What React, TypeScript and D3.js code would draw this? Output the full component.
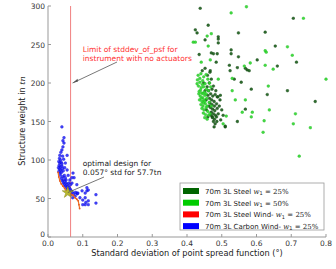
import React from "react";
import * as d3 from "d3";

// 70m 3L Steel w1=25% (dark green) : [std, weight]
const steel25 = [
  [0.706,284],[0.625,266],[0.654,248],[0.715,227],[0.660,222],[0.631,185],[0.689,190],[0.769,176],
  [0.438,297],[0.461,275],[0.424,269],[0.429,265],[0.490,260],[0.490,257],[0.490,252],[0.452,256],
  [0.548,265],[0.527,243],[0.435,237],[0.470,239],[0.476,238],[0.487,238],[0.527,238],[0.548,234],
  [0.484,227],[0.602,230],[0.522,223],[0.545,220],[0.568,219],[0.573,217],[0.579,216],[0.452,219],
  [0.467,216],[0.444,216],[0.524,216],[0.536,205],[0.556,201],[0.585,192],[0.568,166],[0.545,150],
  [0.510,143],[0.510,144],[0.487,182],[0.496,184],[0.504,158],[0.473,156],
  [0.462,190],[0.468,186],[0.474,183],[0.465,180],[0.471,178],[0.478,176],[0.466,174],[0.472,172],
  [0.479,170],[0.485,173],[0.468,168],[0.474,166],[0.480,164],[0.487,167],[0.470,162],[0.476,160],
  [0.482,158],[0.473,155],[0.479,153],[0.485,156],[0.476,150],[0.481,147],[0.478,143],[0.490,160],
  [0.493,170],[0.460,184],[0.455,178],[0.458,195],[0.464,200],[0.470,205],[0.476,196],[0.483,190],
  [0.489,182],[0.495,178],[0.500,165],[0.497,152],[0.463,170],[0.469,158],[0.486,150],[0.472,192],
  [0.481,185],[0.456,165],[0.460,156],[0.452,190],[0.448,200],[0.459,210],[0.466,214],
];

// 70m 3L Steel w1=50% (light green)
const steel50 = [
  [0.735,284],[0.689,247],[0.625,242],[0.703,236],[0.625,223],[0.648,218],[0.800,205],[0.634,196],
  [0.637,165],[0.712,160],[0.622,151],[0.706,147],[0.755,142],[0.619,136],[0.723,105],[0.571,299],
  [0.527,291],[0.470,264],[0.458,261],[0.418,253],[0.424,253],[0.461,248],[0.628,240],[0.467,230],
  [0.441,227],[0.582,226],[0.565,222],[0.530,206],[0.490,205],[0.530,190],[0.539,178],[0.568,178],
  [0.559,162],[0.588,162],[0.585,156],[0.513,157],[0.504,147],
  [0.432,210],[0.440,212],[0.448,208],[0.455,211],[0.430,204],[0.437,201],[0.445,203],[0.452,199],
  [0.433,196],[0.441,194],[0.448,195],[0.456,192],[0.435,189],[0.442,187],[0.450,188],[0.438,183],
  [0.445,181],[0.452,184],[0.436,178],[0.443,176],[0.449,178],[0.457,180],[0.440,172],[0.446,170],
  [0.453,173],[0.443,167],[0.449,165],[0.455,168],[0.447,161],[0.453,159],[0.460,163],[0.451,155],
  [0.458,153],[0.462,158],[0.434,186],[0.439,191],[0.446,186],[0.444,198],[0.451,176],[0.447,174],
  [0.441,180],[0.455,186],[0.462,190],[0.464,175],[0.470,170],[0.458,170],[0.466,160],[0.429,199],
  [0.437,206],[0.460,205],[0.465,200],[0.468,195],
];

// 70m 3L Carbon Wind- w1=25% (blue)
const carbonWind = [
  [0.040,143],[0.046,129],[0.043,125],[0.046,122],[0.043,117],[0.040,113],[0.037,110],[0.034,106],
  [0.033,102],[0.036,100],[0.031,98],[0.034,96],[0.038,97],[0.032,93],[0.035,91],[0.040,92],
  [0.030,90],[0.033,88],[0.037,87],[0.042,89],[0.031,85],[0.035,83],[0.039,84],[0.044,86],
  [0.048,90],[0.055,106],[0.055,87],[0.058,80],[0.063,74],[0.052,74],[0.043,78],[0.047,80],
  [0.050,77],[0.036,80],[0.038,76],[0.041,73],[0.044,70],[0.047,68],[0.050,66],[0.053,64],
  [0.056,62],[0.059,60],[0.062,59],[0.065,58],[0.045,74],[0.048,72],[0.052,70],[0.055,68],
  [0.058,66],[0.061,64],[0.064,62],[0.067,60],[0.070,58],[0.060,70],[0.065,68],[0.072,83],
  [0.075,77],[0.069,77],[0.069,70],[0.083,68],[0.098,60],[0.112,64],[0.112,60],[0.116,61],
  [0.083,57],[0.084,56],[0.107,57],[0.107,51],[0.100,48],[0.092,51],[0.109,45],[0.116,42],
  [0.107,42],[0.100,42],[0.138,55],[0.138,44],[0.071,51],[0.078,53],[0.086,57],[0.116,47],
  [0.062,56],[0.066,55],[0.074,56],[0.079,58],[0.040,95],[0.045,101],[0.050,96],[0.042,105],
];

// 70m 3L Steel Wind- w1=25% (red line)
const steelWindX = [0.029,0.031,0.034,0.038,0.043,0.048,0.053,0.058,0.063,0.068,0.073,0.078,0.083,0.087,0.089,0.091];
const steelWindY = [84,78,73,69,66,63,60,58,57,55,54,51,49,47,42,37];

const xTicks = [0, 0.1, 0.2, 0.3, 0.4, 0.5, 0.6, 0.7, 0.8];
const yTicks = [0, 50, 100, 150, 200, 250, 300];

const limitStd = 0.065;
const optimum = [0.057, 57.7];

const legendItems = [
  { label: "70m 3L Steel ", pct: "25%", color: "#006400" },
  { label: "70m 3L Steel ", pct: "50%", color: "#00cc00" },
  { label: "70m 3L Steel Wind- ", pct: "25%", color: "#ff0000" },
  { label: "70m 3L Carbon Wind- ", pct: "25%", color: "#0000ff" },
];

const W = 336, H = 269;
const font = "DejaVu Sans, sans-serif";

export default function App() {
  const x = d3.scaleLinear().domain([0, 0.8]).range([48, 326]);
  const y = d3.scaleLinear().domain([0, 300]).range([237, 6]);
  const line = d3.line<number>().x((d, i) => x(steelWindX[i])).y((d, i) => y(steelWindY[i]));
  const star = d3.symbol(d3.symbolStar, 40)();

  return (
    <svg width={W} height={H} style={{ position: "absolute", left: 0, top: 0, background: "#fff" }} fontFamily={font}>
      {/* red limit line */}
      <line x1={x(limitStd)} x2={x(limitStd)} y1={y(300)} y2={y(0)} stroke="#f08080" strokeWidth={1} />

      {steel25.map((d, i) => (
        <circle key={"a" + i} cx={x(d[0])} cy={y(d[1])} r={1.4} fill="#1a5e1a" stroke="#0d420d" strokeWidth={0.4} opacity={0.9} />
      ))}
      {steel50.map((d, i) => (
        <circle key={"b" + i} cx={x(d[0])} cy={y(d[1])} r={1.4} fill="#2ed82e" stroke="#1fb81f" strokeWidth={0.4} opacity={0.9} />
      ))}
      {carbonWind.map((d, i) => (
        <circle key={"c" + i} cx={x(d[0])} cy={y(d[1])} r={1.4} fill="#2222ff" stroke="#0000cc" strokeWidth={0.4} opacity={0.85} />
      ))}
      <path d={line(steelWindY) || ""} fill="none" stroke="#f07020" strokeWidth={1.2} />
      {steelWindX.map((d, i) => (
        <circle key={"d" + i} cx={x(d)} cy={y(steelWindY[i])} r={0.9} fill="#e85a20" />
      ))}
      <path d={star} transform={`translate(${x(optimum[0])},${y(optimum[1])})`} fill="#b8b830" stroke="#8a8a20" strokeWidth={0.5} />

      {/* axes */}
      <line x1={48} x2={48} y1={6} y2={237} stroke="#999" />
      <line x1={48} x2={326} y1={237} y2={237} stroke="#999" />
      {xTicks.map((t) => (
        <g key={"xt" + t}>
          <line x1={x(t)} x2={x(t)} y1={237} y2={234} stroke="#999" />
          <text x={x(t)} y={246} fontSize={7.5} textAnchor="middle" fill="#333">{t.toFixed(1)}</text>
        </g>
      ))}
      {yTicks.map((t) => (
        <g key={"yt" + t}>
          <line x1={48} x2={51} y1={y(t)} y2={y(t)} stroke="#999" />
          <text x={45} y={y(t) + (t === 0 ? -0.5 : 3)} fontSize={7.5} textAnchor="end" fill="#333">{t}</text>
        </g>
      ))}
      <text x={187} y={256} fontSize={8.2} textAnchor="middle" fill="#222">Standard deviation of point spread function (°)</text>
      <text transform="translate(25,121) rotate(-90)" fontSize={8.2} textAnchor="middle" fill="#222">
        Structure weight in <tspan fontFamily="DejaVu Serif, serif" fontStyle="italic">tn</tspan>
      </text>

      {/* annotations */}
      <text x={x(0.1)} y={52} fontSize={7.5} fill="#ff3030">Limit of stddev_of_psf for</text>
      <text x={x(0.1)} y={61} fontSize={7.5} fill="#ff3030">instrument with no actuators</text>
      <line x1={117} y1={62} x2={x(limitStd) + 2} y2={y(200)} stroke="#555" strokeWidth={0.8} />
      <path d={`M${x(limitStd) + 2},${y(200)} l5,-4.2 l0.4,2.8 z`} fill="#555" />
      <text x={x(0.1)} y={166} fontSize={7.5} fill="#222">optimal design for</text>
      <text x={x(0.1)} y={175} fontSize={7.5} fill="#222">0.057° std for 57.7tn</text>
      <line x1={104} y1={177} x2={x(optimum[0])} y2={y(optimum[1])} stroke="#555" strokeWidth={0.8} />

      {/* legend */}
      <rect x={180} y={183} width={144} height={47} fill="#fff" stroke="#999" strokeWidth={0.8} />
      {legendItems.map((it, i) => (
        <g key={"lg" + i} transform={`translate(183,${191 + i * 11.7})`}>
          <rect x={0} y={-3} width={16} height={6} fill={it.color} />
          <text x={22} y={2.8} fontSize={7} fill="#222">
            {it.label}
            <tspan fontFamily="DejaVu Serif, serif" fontStyle="italic">w</tspan>
            <tspan fontSize={5} dy={1.5}>1</tspan>
            <tspan dy={-1.5} fontFamily="DejaVu Serif, serif"> = {it.pct}</tspan>
          </text>
        </g>
      ))}
    </svg>
  );
}
